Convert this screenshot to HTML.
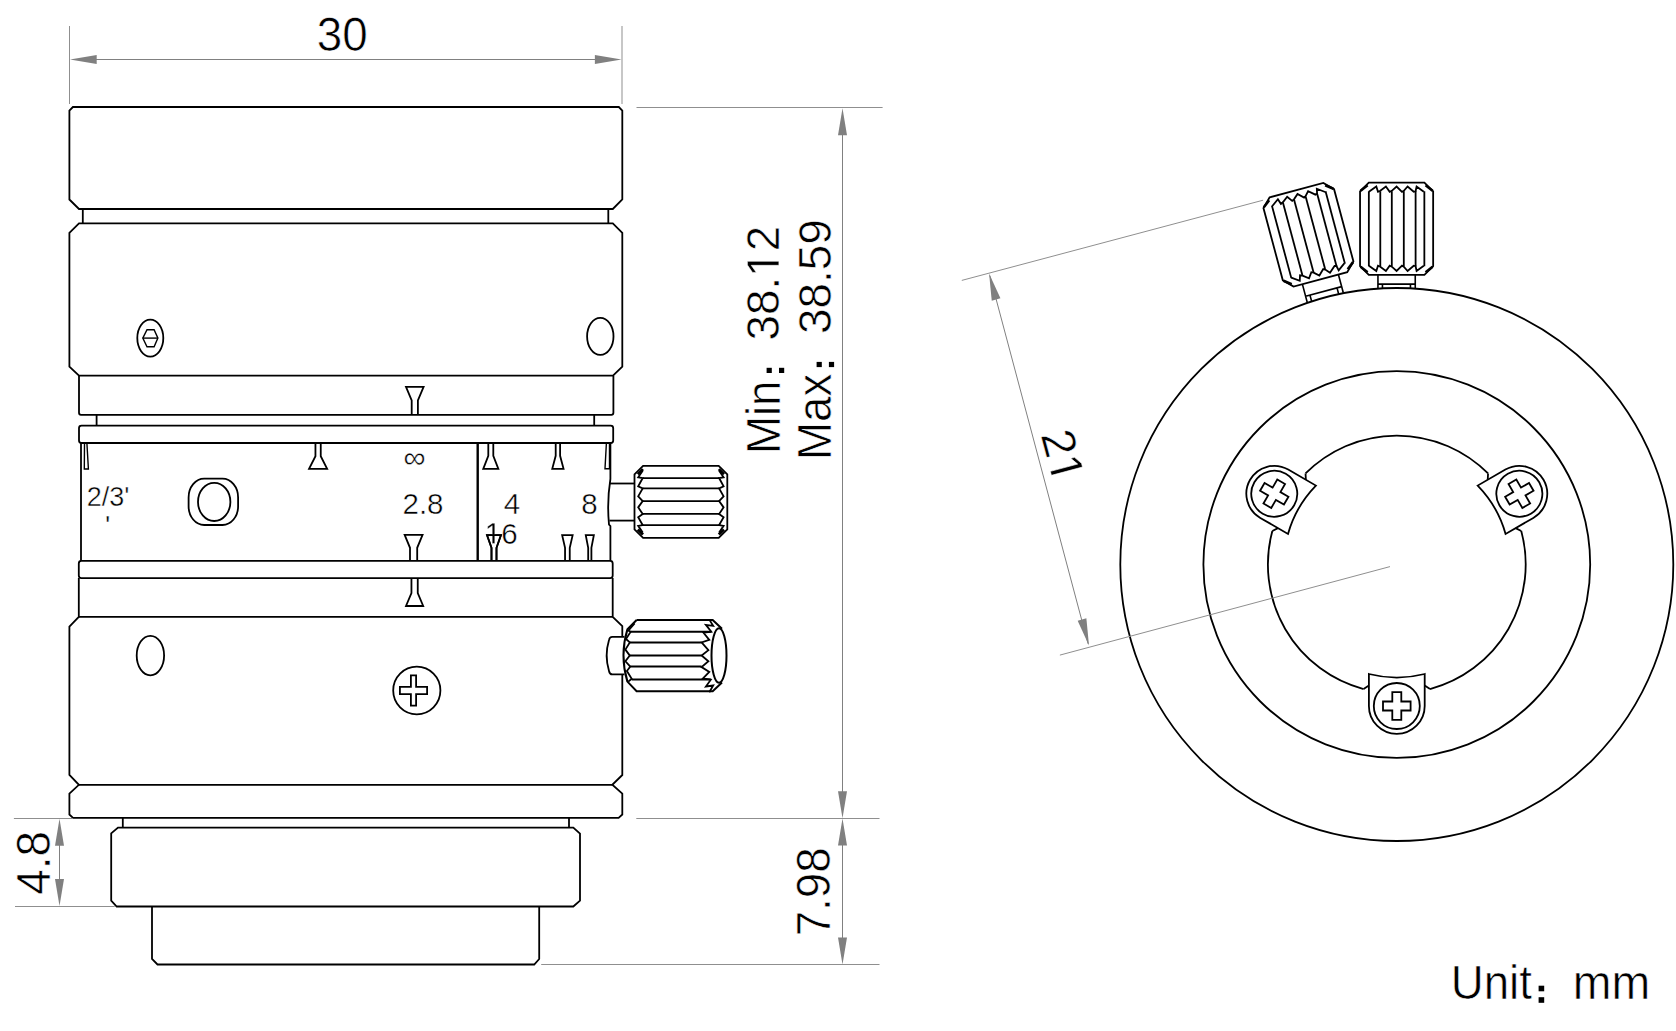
<!DOCTYPE html>
<html><head><meta charset="utf-8"><style>
html,body{margin:0;padding:0;background:#fff;}
svg{display:block;}
text{font-family:"Liberation Sans", sans-serif;}
text{stroke:#fff;stroke-width:0.45px;}
.big text{stroke:#fff;stroke-width:0.6px;}
</style></head><body>
<svg width="1676" height="1031" viewBox="0 0 1676 1031">
<rect width="1676" height="1031" fill="#fff"/>
<path d="M72.90,107.00 L618.80,107.00 L622.30,110.50 L622.30,199.50 L612.80,209.00 L79.00,209.00 L69.40,199.50 L69.40,110.50 Z" fill="none" stroke="#000" stroke-width="1.8" />
<line x1="82.80" y1="209.00" x2="82.80" y2="223.40" stroke="#000" stroke-width="1.8"/>
<line x1="608.30" y1="209.00" x2="608.30" y2="223.40" stroke="#000" stroke-width="1.8"/>
<path d="M79.00,223.40 L612.80,223.40 L622.30,232.80 L622.30,366.60 L613.00,375.70 L79.00,375.70 L69.40,366.60 L69.40,232.80 Z" fill="none" stroke="#000" stroke-width="1.8" />
<path d="M79,375.7 L79,412.8 Q79,414.8 81,414.8 L611.4,414.8 Q613.4,414.8 613.4,412.8 L613.4,375.7" fill="none" stroke="#000" stroke-width="1.8" />
<line x1="96.60" y1="415.00" x2="96.60" y2="425.40" stroke="#000" stroke-width="1.8"/>
<line x1="594.20" y1="415.00" x2="594.20" y2="425.40" stroke="#000" stroke-width="1.8"/>
<rect x="79" y="425.6" width="534.2" height="17.4" rx="2.5" fill="none" stroke="#000" stroke-width="1.8"/>
<line x1="81.00" y1="443.00" x2="81.00" y2="561.00" stroke="#000" stroke-width="1.8"/>
<line x1="477.70" y1="443.00" x2="477.70" y2="561.00" stroke="#000" stroke-width="2.4"/>
<path d="M610.4,443 L610.4,479 Q606.8,501.5 609,524.5 L610.4,526 L610.4,561" fill="none" stroke="#000" stroke-width="1.8" />
<rect x="78.8" y="560.9" width="533.9" height="17.2" rx="2.5" fill="none" stroke="#000" stroke-width="1.8"/>
<path d="M622.30,636.80 L622.30,626.20 L612.70,616.80 L612.70,578.10" fill="none" stroke="#000" stroke-width="1.8" />
<path d="M78.80,578.10 L78.80,616.80 L69.40,626.60 L69.40,775.00 L78.90,784.80 L69.40,793.60 L69.40,814.50 L73.00,817.80 L618.60,817.80 L622.30,814.50 L622.30,793.60 L612.30,784.80 L622.30,775.00 L622.30,674.40" fill="none" stroke="#000" stroke-width="1.8" />
<line x1="78.80" y1="616.80" x2="612.70" y2="616.80" stroke="#000" stroke-width="1.8"/>
<line x1="78.90" y1="784.80" x2="612.30" y2="784.80" stroke="#000" stroke-width="1.8"/>
<line x1="122.80" y1="817.80" x2="122.80" y2="827.60" stroke="#000" stroke-width="1.8"/>
<line x1="569.00" y1="817.80" x2="569.00" y2="827.60" stroke="#000" stroke-width="1.8"/>
<path d="M118.00,827.60 L573.30,827.60 L580.00,833.60 L580.00,900.70 L573.30,906.50 L116.70,906.50 L111.20,900.70 L111.20,833.40 Z" fill="none" stroke="#000" stroke-width="1.8" />
<path d="M152.00,906.50 L152.00,959.00 L157.50,964.50 L534.20,964.50 L539.20,959.00 L539.20,906.50" fill="none" stroke="#000" stroke-width="1.8" />
<path d="M411.70,414.30 L411.70,400.40 L406.00,386.80 L423.60,386.80 L417.90,400.40 L417.90,414.30" fill="none" stroke="#000" stroke-width="1.8" />
<path d="M315.45,443.00 L315.45,456.20 L309.05,468.90 L327.15,468.90 L320.75,456.20 L320.75,443.00" fill="none" stroke="#000" stroke-width="1.8" />
<path d="M488.30,443.00 L488.30,455.80 L483.25,468.80 L498.35,468.80 L493.30,455.80 L493.30,443.00" fill="none" stroke="#000" stroke-width="1.8" />
<path d="M555.70,443.00 L555.70,455.80 L552.25,468.80 L563.55,468.80 L560.10,455.80 L560.10,443.00" fill="none" stroke="#000" stroke-width="1.8" />
<path d="M84.50,443.00 L84.30,469.00 L88.40,469.00 L86.90,443.00" fill="none" stroke="#000" stroke-width="1.4" />
<path d="M606.40,443.00 L605.00,468.80 L609.50,468.80 L609.50,443.00" fill="none" stroke="#000" stroke-width="1.4" />
<path d="M410.00,561.00 L410.00,547.80 L404.65,534.90 L422.55,534.90 L417.20,547.80 L417.20,561.00" fill="none" stroke="#000" stroke-width="1.8" />
<path d="M491.50,561.00 L491.50,547.80 L487.05,535.20 L500.95,535.20 L496.50,547.80 L496.50,561.00" fill="none" stroke="#000" stroke-width="1.8" />
<path d="M565.05,561.00 L565.05,547.80 L562.15,535.20 L572.65,535.20 L569.75,547.80 L569.75,561.00" fill="none" stroke="#000" stroke-width="1.8" />
<path d="M588.20,561.00 L588.20,547.80 L585.75,535.20 L593.85,535.20 L591.40,547.80 L591.40,561.00" fill="none" stroke="#000" stroke-width="1.8" />
<path d="M411.45,578.10 L411.45,593.00 L406.00,606.00 L423.20,606.00 L417.75,593.00 L417.75,578.10" fill="none" stroke="#000" stroke-width="1.8" />
<ellipse cx="150.3" cy="338.1" rx="13" ry="18.5" fill="none" stroke="#000" stroke-width="1.8"/>
<path d="M142.80,338.10 L147.00,329.80 L154.10,329.80 L157.90,338.10 L154.10,346.70 L147.00,346.70 Z" fill="none" stroke="#000" stroke-width="1.4" />
<line x1="142.80" y1="338.10" x2="157.90" y2="338.10" stroke="#000" stroke-width="1.4"/>
<ellipse cx="600.3" cy="336.4" rx="13.2" ry="18.5" fill="none" stroke="#000" stroke-width="1.8"/>
<ellipse cx="150.4" cy="655.6" rx="13.7" ry="19.8" fill="none" stroke="#000" stroke-width="1.8"/>
<ellipse cx="416.8" cy="690.5" rx="23.6" ry="23.8" fill="none" stroke="#000" stroke-width="1.8"/>
<path d="M410.90,675.35 L416.10,675.35 L416.10,686.85 L427.10,686.85 L427.10,694.15 L416.10,694.15 L416.10,705.65 L410.90,705.65 L410.90,694.15 L399.90,694.15 L399.90,686.85 L410.90,686.85 Z" fill="none" stroke="#000" stroke-width="1.8" />
<rect x="188.6" y="478.7" width="49.5" height="46.3" rx="15.6" ry="18.7" fill="none" stroke="#000" stroke-width="1.8"/>
<ellipse cx="214.2" cy="501.9" rx="16.2" ry="19.1" fill="none" stroke="#000" stroke-width="1.8"/>
<text x="108.00" y="506.00" text-anchor="middle" font-size="27" fill="#000">2/3'</text>
<text x="107.60" y="535.30" text-anchor="middle" font-size="28" fill="#000">'</text>
<text x="414.50" y="468.20" text-anchor="middle" font-size="31" fill="#000">&#8734;</text>
<text x="423.00" y="513.60" text-anchor="middle" font-size="29.5" fill="#000">2.8</text>
<text x="512.00" y="513.60" text-anchor="middle" font-size="29.5" fill="#000">4</text>
<text x="589.40" y="513.60" text-anchor="middle" font-size="29.5" fill="#000">8</text>
<g class="small" transform="translate(501.20,543.50)"><path transform="translate(-16.41,0) scale(0.01440,-0.01440)" d="M515 0V1237L197 1010V1180L530 1409H696V0Z" fill="#000" stroke="#fff" stroke-width="31.24"/><text x="0.00" y="0" font-size="29.5" fill="#000">6</text></g>
<path d="M491.50,561.00 L491.50,547.80 L487.05,535.20 L500.95,535.20 L496.50,547.80 L496.50,561.00" fill="none" stroke="#000" stroke-width="1.8" />
<path d="M643.10,465.80 L718.70,465.80 L727.30,474.40 L727.30,529.30 L718.70,537.90 L643.10,537.90 L634.50,529.30 L634.50,474.40 Z" fill="none" stroke="#000" stroke-width="1.8" />
<line x1="642.70" y1="478.05" x2="719.10" y2="478.05" stroke="#000" stroke-width="1.8"/>
<line x1="642.70" y1="488.35" x2="719.10" y2="488.35" stroke="#000" stroke-width="1.8"/>
<line x1="642.70" y1="501.15" x2="719.10" y2="501.15" stroke="#000" stroke-width="1.8"/>
<line x1="642.70" y1="513.95" x2="719.10" y2="513.95" stroke="#000" stroke-width="1.8"/>
<line x1="642.70" y1="525.05" x2="719.10" y2="525.05" stroke="#000" stroke-width="1.8"/>
<path d="M642.70,470.65 L638.20,477.25 L642.70,478.05 L638.20,486.35 L642.70,488.35 L638.20,496.25 L642.70,501.15 L638.20,507.35 L642.70,513.95 L638.20,517.25 L642.70,525.05 L638.20,525.85 L642.70,532.45" fill="none" stroke="#000" stroke-width="1.8" />
<path d="M719.10,470.65 L723.60,477.25 L719.10,478.05 L723.60,486.35 L719.10,488.35 L723.60,496.25 L719.10,501.15 L723.60,507.35 L719.10,513.95 L723.60,517.25 L719.10,525.05 L723.60,525.85 L719.10,532.45" fill="none" stroke="#000" stroke-width="1.8" />
<path d="M642.98,469.12 L637.82,474.28" fill="none" stroke="#000" stroke-width="2.8" />
<path d="M642.98,534.58 L637.82,529.42" fill="none" stroke="#000" stroke-width="2.8" />
<path d="M718.82,469.12 L723.98,474.28" fill="none" stroke="#000" stroke-width="2.8" />
<path d="M718.82,534.58 L723.98,529.42" fill="none" stroke="#000" stroke-width="2.8" />
<line x1="609.50" y1="483.50" x2="634.50" y2="483.50" stroke="#000" stroke-width="1.8"/>
<line x1="609.50" y1="520.60" x2="634.50" y2="520.60" stroke="#000" stroke-width="1.8"/>
<path d="M624.4,636.8 L612.3,636.8 Q609.6,636.8 609,640 Q604.3,655.5 609,671 Q609.6,674.4 612.3,674.4 L624.4,674.4" fill="none" stroke="#000" stroke-width="1.8" />
<path d="M636.6,620 L712.7,620 L722,628.8 M636.6,620 L627.4,629.3 Q619.5,655.5 627.4,681.6 L636.6,691.3 L712.7,691.3 L722,682.6" fill="none" stroke="#000" stroke-width="2.0" />
<ellipse cx="719" cy="655.5" rx="7.5" ry="27.2" fill="none" stroke="#000" stroke-width="2.0"/>
<line x1="630.70" y1="631.70" x2="711.30" y2="631.70" stroke="#000" stroke-width="2.0"/>
<line x1="629.80" y1="642.40" x2="701.60" y2="642.40" stroke="#000" stroke-width="2.0"/>
<line x1="629.80" y1="655.60" x2="701.60" y2="655.60" stroke="#000" stroke-width="2.0"/>
<line x1="630.30" y1="666.60" x2="701.60" y2="666.60" stroke="#000" stroke-width="2.0"/>
<line x1="631.70" y1="679.50" x2="710.80" y2="679.50" stroke="#000" stroke-width="2.0"/>
<path d="M634.60,623.40 L628.30,630.70 L630.70,631.70 L626.00,639.00 L629.80,642.40 L625.40,649.60 L629.80,655.60 L625.40,661.30 L630.30,666.60 L626.90,671.00 L631.70,678.70 L628.30,681.60" fill="none" stroke="#000" stroke-width="1.8" />
<path d="M709.30,619.60 L713.20,625.90 L705.90,624.90 L711.30,631.70 L703.50,632.70 L709.30,639.90 L701.60,642.40 L708.40,650.10 L701.60,655.50 L708.40,661.30 L701.60,667.10 L709.30,671.90 L703.00,678.30 L710.80,679.70 L705.90,686.50 L713.20,685.50 L709.30,692.30" fill="none" stroke="#000" stroke-width="1.8" />
<line x1="69.50" y1="26.00" x2="69.50" y2="104.00" stroke="#8f8f8f" stroke-width="1"/>
<line x1="622.00" y1="26.00" x2="622.00" y2="104.00" stroke="#8f8f8f" stroke-width="1"/>
<line x1="90.00" y1="59.50" x2="602.00" y2="59.50" stroke="#808080" stroke-width="1"/>
<path d="M70.00,59.50 L96.70,55.00 L96.70,64.00 Z" fill="#808080" stroke="none"/>
<path d="M621.60,59.50 L594.90,64.00 L594.90,55.00 Z" fill="#808080" stroke="none"/>
<g class="big" transform="translate(342.3,50.8) scale(1,1.05)"><text x="0" y="0" text-anchor="middle" font-size="45.8">30</text></g>
<line x1="636.50" y1="107.50" x2="882.60" y2="107.50" stroke="#8f8f8f" stroke-width="1"/>
<line x1="636.30" y1="818.50" x2="879.50" y2="818.50" stroke="#8f8f8f" stroke-width="1"/>
<line x1="541.20" y1="964.50" x2="879.50" y2="964.50" stroke="#8f8f8f" stroke-width="1"/>
<line x1="842.50" y1="120.00" x2="842.50" y2="805.00" stroke="#808080" stroke-width="1"/>
<path d="M842.50,108.30 L847.00,135.30 L838.00,135.30 Z" fill="#808080" stroke="none"/>
<path d="M842.50,818.30 L838.00,791.30 L847.00,791.30 Z" fill="#808080" stroke="none"/>
<line x1="842.50" y1="830.00" x2="842.50" y2="952.00" stroke="#808080" stroke-width="1"/>
<path d="M842.50,818.60 L847.00,845.60 L838.00,845.60 Z" fill="#808080" stroke="none"/>
<path d="M842.50,964.60 L838.00,937.60 L847.00,937.60 Z" fill="#808080" stroke="none"/>
<line x1="13.90" y1="818.50" x2="73.00" y2="818.50" stroke="#8f8f8f" stroke-width="1"/>
<line x1="15.00" y1="906.50" x2="114.70" y2="906.50" stroke="#8f8f8f" stroke-width="1"/>
<line x1="59.50" y1="830.00" x2="59.50" y2="895.00" stroke="#808080" stroke-width="1"/>
<path d="M59.50,818.80 L64.00,845.80 L55.00,845.80 Z" fill="#808080" stroke="none"/>
<path d="M59.50,906.00 L55.00,879.00 L64.00,879.00 Z" fill="#808080" stroke="none"/>
<g class="big" transform="translate(49.9,862.8) rotate(-90) scale(1,1.04)"><text x="0" y="0" text-anchor="middle" font-size="45.8">4.8</text></g>
<g class="big" transform="translate(829.9,891.8) rotate(-90) scale(1,1.04)"><text x="0" y="0" text-anchor="middle" font-size="45.8">7.98</text></g>
<g class="big" transform="translate(779.8,454.0) rotate(-90) scale(0.965,1)"><text x="0" y="0" font-size="47.2">Min</text></g>
<g class="big" transform="translate(778.90,283.20) rotate(-90)"><text x="-57.31" y="0" font-size="45.8" fill="#000">38.</text><path transform="translate(6.36,0) scale(0.02236,-0.02236)" d="M515 0V1237L197 1010V1180L530 1409H696V0Z" fill="#000" stroke="#fff" stroke-width="26.83"/><text x="31.83" y="0" font-size="45.8" fill="#000">2</text></g>
<g class="big" transform="translate(830.9,460.1) rotate(-90) scale(0.97,1)"><text x="0" y="0" font-size="47.2">Max</text></g>
<g class="big" transform="translate(830.50,276.65) rotate(-90)"><text x="-57.31" y="0" font-size="45.8" fill="#000">38.59</text></g>
<rect x="766.60" y="367.80" width="5.2" height="5.2" fill="#000"/>
<rect x="779.00" y="367.80" width="5.2" height="5.2" fill="#000"/>
<rect x="816.60" y="361.90" width="5.2" height="5.2" fill="#000"/>
<rect x="828.90" y="361.90" width="5.2" height="5.2" fill="#000"/>
<g class="big" transform="translate(1450.7,999.4) scale(0.968,1)"><text x="0" y="0" font-size="47.2">Unit</text></g>
<rect x="1538.60" y="985.70" width="5.6" height="5.6" fill="#000"/>
<rect x="1538.60" y="997.20" width="5.6" height="5.6" fill="#000"/>
<g class="big" transform="translate(1572.7,999.4) scale(0.985,1)"><text x="0" y="0" font-size="47.2">mm</text></g>
<circle cx="1396.8" cy="564.5" r="276.5" fill="none" stroke="#000" stroke-width="1.8"/>
<circle cx="1396.8" cy="564.5" r="193.4" fill="none" stroke="#000" stroke-width="1.8"/>
<path d="M1363.60,689.05 A128.9,128.9 0 0 1 1272.34,530.98" fill="none" stroke="#000" stroke-width="1.8" />
<path d="M1305.54,473.47 A128.9,128.9 0 0 1 1488.06,473.47" fill="none" stroke="#000" stroke-width="1.8" />
<path d="M1521.26,530.98 A128.9,128.9 0 0 1 1430.00,689.05" fill="none" stroke="#000" stroke-width="1.8" />
<g transform="rotate(0,1396.8,564.5) translate(1396.8,564.5)"><path d="M-27.9,109.50 A113,113 0 0 0 27.9,109.50 L27.9,141.5 A27.9,27.9 0 0 1 -27.9,141.5 Z" fill="#fff" stroke="#000" stroke-width="1.8"/><path d="M-33.2,124.55 L-27.9,121.1 M33.2,124.55 L27.9,121.1" fill="none" stroke="#000" stroke-width="1.8"/><circle cx="0" cy="141.5" r="23" fill="none" stroke="#000" stroke-width="1.8"/><path d="M-4.50,127.70 L4.50,127.70 L4.50,137.00 L13.80,137.00 L13.80,146.00 L4.50,146.00 L4.50,155.30 L-4.50,155.30 L-4.50,146.00 L-13.80,146.00 L-13.80,137.00 L-4.50,137.00 Z" fill="none" stroke="#000" stroke-width="1.8"/></g>
<g transform="rotate(120,1396.8,564.5) translate(1396.8,564.5)"><path d="M-27.9,109.50 A113,113 0 0 0 27.9,109.50 L27.9,141.5 A27.9,27.9 0 0 1 -27.9,141.5 Z" fill="#fff" stroke="#000" stroke-width="1.8"/><path d="M-33.2,124.55 L-27.9,121.1 M33.2,124.55 L27.9,121.1" fill="none" stroke="#000" stroke-width="1.8"/><circle cx="0" cy="141.5" r="23" fill="none" stroke="#000" stroke-width="1.8"/><path d="M-4.50,127.70 L4.50,127.70 L4.50,137.00 L13.80,137.00 L13.80,146.00 L4.50,146.00 L4.50,155.30 L-4.50,155.30 L-4.50,146.00 L-13.80,146.00 L-13.80,137.00 L-4.50,137.00 Z" fill="none" stroke="#000" stroke-width="1.8"/></g>
<g transform="rotate(240,1396.8,564.5) translate(1396.8,564.5)"><path d="M-27.9,109.50 A113,113 0 0 0 27.9,109.50 L27.9,141.5 A27.9,27.9 0 0 1 -27.9,141.5 Z" fill="#fff" stroke="#000" stroke-width="1.8"/><path d="M-33.2,124.55 L-27.9,121.1 M33.2,124.55 L27.9,121.1" fill="none" stroke="#000" stroke-width="1.8"/><circle cx="0" cy="141.5" r="23" fill="none" stroke="#000" stroke-width="1.8"/><path d="M-4.50,127.70 L4.50,127.70 L4.50,137.00 L13.80,137.00 L13.80,146.00 L4.50,146.00 L4.50,155.30 L-4.50,155.30 L-4.50,146.00 L-13.80,146.00 L-13.80,137.00 L-4.50,137.00 Z" fill="none" stroke="#000" stroke-width="1.8"/></g>
<g transform="translate(1396.6,228.75)"><path d="M-27.80,-46.15 L27.80,-46.15 L36.55,-37.40 L36.55,37.40 L27.80,46.15 L-27.80,46.15 L-36.55,37.40 L-36.55,-37.40 Z" fill="none" stroke="#000" stroke-width="1.8"/><path d="M-27.75,-37.5 L-27.75,37.5" fill="none" stroke="#000" stroke-width="1.8"/><path d="M-16.3,-37.5 L-16.3,37.5" fill="none" stroke="#000" stroke-width="1.8"/><path d="M-4.8,-37.5 L-4.8,37.5" fill="none" stroke="#000" stroke-width="1.8"/><path d="M7.2,-37.5 L7.2,37.5" fill="none" stroke="#000" stroke-width="1.8"/><path d="M19.0,-37.5 L19.0,37.5" fill="none" stroke="#000" stroke-width="1.8"/><path d="M27.75,-37.5 L27.75,37.5" fill="none" stroke="#000" stroke-width="1.8"/><path d="M-27.70,-36.95 L-20.30,-42.25 L-18.60,-36.95 L-16.30,-37.95 L-10.70,-42.25 L-6.90,-36.95 L-4.80,-37.95 L0.00,-42.25 L5.40,-36.95 L7.20,-37.95 L11.00,-42.25 L17.10,-36.95 L19.00,-37.45 L20.00,-42.25 L27.20,-36.95" fill="none" stroke="#000" stroke-width="1.8"/><path d="M-27.70,36.95 L-20.30,42.25 L-18.60,36.95 L-16.30,37.95 L-10.70,42.25 L-6.90,36.95 L-4.80,37.95 L0.00,42.25 L5.40,36.95 L7.20,37.95 L11.00,42.25 L17.10,36.95 L19.00,37.45 L20.00,42.25 L27.20,36.95" fill="none" stroke="#000" stroke-width="1.8"/><path d="M-36.00,-38.00 L-29.00,-43.50" fill="none" stroke="#000" stroke-width="2.6"/><path d="M36.00,-38.00 L29.00,-43.50" fill="none" stroke="#000" stroke-width="2.6"/><path d="M-36.00,38.00 L-29.00,43.50" fill="none" stroke="#000" stroke-width="2.6"/><path d="M36.00,38.00 L29.00,43.50" fill="none" stroke="#000" stroke-width="2.6"/><path d="M-18.65,46.15 L-18.65,59.5 M18.65,46.15 L18.65,59.5 M-18.65,55.35 L18.65,55.35 M-14.15,55.35 L-14.15,59.5 M13.85,55.35 L13.85,59.5" fill="none" stroke="#000" stroke-width="1.6"/></g>
<g transform="rotate(-15,1396.8,564.5) translate(1396.8,223.10000000000002)"><path d="M-27.80,-46.15 L27.80,-46.15 L36.55,-37.40 L36.55,37.40 L27.80,46.15 L-27.80,46.15 L-36.55,37.40 L-36.55,-37.40 Z" fill="none" stroke="#000" stroke-width="1.8"/><path d="M-27.75,-37.5 L-27.75,37.5" fill="none" stroke="#000" stroke-width="1.8"/><path d="M-16.3,-37.5 L-16.3,37.5" fill="none" stroke="#000" stroke-width="1.8"/><path d="M-4.8,-37.5 L-4.8,37.5" fill="none" stroke="#000" stroke-width="1.8"/><path d="M7.2,-37.5 L7.2,37.5" fill="none" stroke="#000" stroke-width="1.8"/><path d="M19.0,-37.5 L19.0,37.5" fill="none" stroke="#000" stroke-width="1.8"/><path d="M27.75,-37.5 L27.75,37.5" fill="none" stroke="#000" stroke-width="1.8"/><path d="M-27.70,-36.95 L-20.30,-42.25 L-18.60,-36.95 L-16.30,-37.95 L-10.70,-42.25 L-6.90,-36.95 L-4.80,-37.95 L0.00,-42.25 L5.40,-36.95 L7.20,-37.95 L11.00,-42.25 L17.10,-36.95 L19.00,-37.45 L20.00,-42.25 L27.20,-36.95" fill="none" stroke="#000" stroke-width="1.8"/><path d="M-27.70,36.95 L-20.30,42.25 L-18.60,36.95 L-16.30,37.95 L-10.70,42.25 L-6.90,36.95 L-4.80,37.95 L0.00,42.25 L5.40,36.95 L7.20,37.95 L11.00,42.25 L17.10,36.95 L19.00,37.45 L20.00,42.25 L27.20,36.95" fill="none" stroke="#000" stroke-width="1.8"/><path d="M-36.00,-38.00 L-29.00,-43.50" fill="none" stroke="#000" stroke-width="2.6"/><path d="M36.00,-38.00 L29.00,-43.50" fill="none" stroke="#000" stroke-width="2.6"/><path d="M-36.00,38.00 L-29.00,43.50" fill="none" stroke="#000" stroke-width="2.6"/><path d="M36.00,38.00 L29.00,43.50" fill="none" stroke="#000" stroke-width="2.6"/><path d="M-18.65,46.15 L-18.65,65.1 M18.65,46.15 L18.65,65.1 M-18.65,58.71 L18.65,58.71 M-14.15,58.71 L-14.15,65.1 M13.85,58.71 L13.85,65.1" fill="none" stroke="#000" stroke-width="1.6"/></g>
<line x1="961.80" y1="280.40" x2="1263.10" y2="200.20" stroke="#8f8f8f" stroke-width="1"/>
<line x1="1059.90" y1="655.10" x2="1390.00" y2="566.60" stroke="#8f8f8f" stroke-width="1"/>
<line x1="989.80" y1="275.50" x2="1088.10" y2="643.90" stroke="#808080" stroke-width="1"/>
<path d="M989.10,273.40 L1000.43,298.32 L991.74,300.64 Z" fill="#808080" stroke="none"/>
<path d="M1089.00,645.60 L1077.67,620.68 L1086.36,618.36 Z" fill="#808080" stroke="none"/>
<g class="big" transform="translate(1047.30,460.00) rotate(75)"><text x="-26.03" y="0" font-size="46.8" fill="#000">2</text><path transform="translate(0.00,0) scale(0.02285,-0.02285)" d="M515 0V1237L197 1010V1180L530 1409H696V0Z" fill="#000" stroke="#fff" stroke-width="26.26"/></g>
</svg>
</body></html>
